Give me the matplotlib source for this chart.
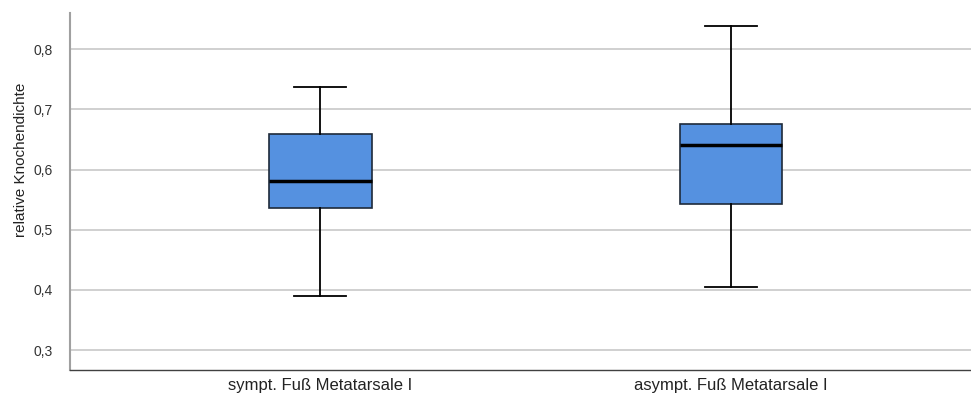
import matplotlib.pyplot as plt
from matplotlib.ticker import FuncFormatter

groups = ['sympt. Fuß Metatarsale I', 'asympt. Fuß Metatarsale I']
whislo = [0.390, 0.405]
q1 = [0.536, 0.543]
med = [0.581, 0.641]
q3 = [0.659, 0.676]
whishi = [0.737, 0.838]

plt.rcParams['font.family'] = ['Liberation Sans', 'DejaVu Sans']

stats = []
for i in range(len(groups)):
    stats.append({'label': groups[i], 'whislo': whislo[i], 'q1': q1[i], 'med': med[i],
                  'q3': q3[i], 'whishi': whishi[i], 'fliers': []})

fig = plt.figure(figsize=(9.71, 3.99), dpi=100)
ax = fig.add_axes([0.072, 0.073, 0.928, 0.894])

ax.bxp(stats, positions=[1, 2], widths=0.25, patch_artist=True, showfliers=False,
       boxprops=dict(facecolor='#5591e0', edgecolor='#1e2a3a', linewidth=1.2),
       medianprops=dict(color='black', linewidth=2.5),
       whiskerprops=dict(color='black', linewidth=1.3),
       capprops=dict(color='black', linewidth=1.3),
       capwidths=0.127, zorder=3)

ax.set_xlim(0.39, 2.585)
ax.set_ylim(0.267, 0.86)
ax.set_yticks([0.3, 0.4, 0.5, 0.6, 0.7, 0.8])
ax.yaxis.set_major_formatter(FuncFormatter(lambda v, p: f'{v:.1f}'.replace('.', ',')))
ax.grid(axis='y', color='#c8c8c8', linewidth=1.2, zorder=0)
ax.set_axisbelow(True)

for s in ['top', 'right']:
    ax.spines[s].set_visible(False)
ax.spines['left'].set_color('#a0a0a0')
ax.spines['left'].set_linewidth(1.5)
ax.spines['bottom'].set_color('#404040')
ax.spines['bottom'].set_linewidth(1.0)

ax.tick_params(axis='y', length=0, labelsize=10, colors='#333333', pad=12)
ax.tick_params(axis='x', length=0, labelsize=12, colors='#222222', pad=6)
ax.set_ylabel('relative Knochendichte', fontsize=11, color='#222222')
ax.yaxis.set_label_coords(-0.046, 0.59)

fig.savefig('out.png', dpi=100)
